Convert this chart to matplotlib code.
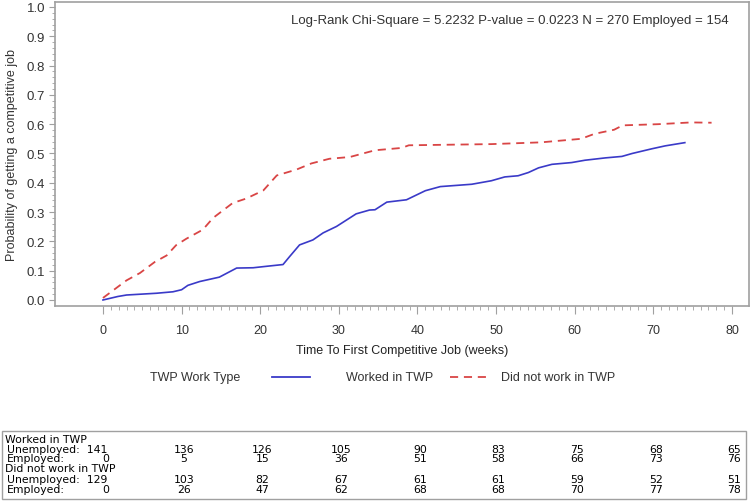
import matplotlib
matplotlib.use("Agg")
import matplotlib.pyplot as plt
from matplotlib.lines import Line2D
from matplotlib.patches import Rectangle
from matplotlib.transforms import blended_transform_factory

plt.rcParams['font.family'] = ['Liberation Sans', 'DejaVu Sans']

# Worked in TWP (solid blue)
twp_weeks = [0, 1.9, 3, 6.8, 8.9, 10, 10.8, 12.3, 14.8, 17, 19.1, 20.8, 22.9, 23.7, 25,
             26.7, 28, 29.7, 32.2, 33.9, 34.6, 36.1, 38.6, 41.0, 42.9, 46.9, 49.4, 51.1,
             52.8, 54.1, 55.4, 57.1, 59.6, 61.3, 63.9, 66.0, 67.3, 69.8, 71.5, 74.0]
twp_prob = [0.0, 0.012, 0.017, 0.023, 0.028, 0.035, 0.05, 0.063, 0.078, 0.109, 0.110, 0.115,
            0.121, 0.147, 0.188, 0.205, 0.229, 0.251, 0.294, 0.307, 0.308, 0.334, 0.342,
            0.373, 0.387, 0.395, 0.407, 0.42, 0.424, 0.435, 0.451, 0.463, 0.469, 0.477,
            0.485, 0.49, 0.50, 0.516, 0.526, 0.537]

# Did not work in TWP (dashed red)
no_twp_weeks = [0, 3, 4.7, 6.6, 8.1, 9.3, 10.6, 12.7, 14.0, 16.5, 18.2, 20.4, 22.1, 24.6,
                26.5, 28.8, 31.4, 34.6, 38, 38.9, 49.4, 55.7, 60.8, 62.5, 65.0, 66.1, 70.6,
                74.8, 77.4]
no_twp_prob = [0.007, 0.067, 0.092, 0.130, 0.152, 0.187, 0.209, 0.240, 0.280, 0.331, 0.346,
               0.374, 0.425, 0.445, 0.466, 0.482, 0.488, 0.511, 0.519, 0.528, 0.532, 0.538,
               0.55, 0.567, 0.581, 0.596, 0.60, 0.606, 0.605]

# number-at-risk table
table_times = [0, 10, 20, 30, 40, 50, 60, 70, 80]
twp_unemployed = [141, 136, 126, 105, 90, 83, 75, 68, 65]
twp_employed = [0, 5, 15, 36, 51, 58, 66, 73, 76]
no_twp_unemployed = [129, 103, 82, 67, 61, 61, 59, 52, 51]
no_twp_employed = [0, 26, 47, 62, 68, 68, 70, 77, 78]

blue = '#3a3ac8'
red = '#d94545'
grey = '#a0a0a0'
txt = '#333333'

fig = plt.figure(figsize=(7.5, 5.02), dpi=100)
ax = fig.add_axes([55 / 750, 1 - 307 / 502, 694 / 750, 304 / 502])

ax.plot(twp_weeks, twp_prob, color=blue, lw=1.2)
ax.plot(no_twp_weeks, no_twp_prob, color=red, lw=1.3, dashes=(4.5, 3.2))

ax.set_xlim(-6.1, 82.16)
ax.set_ylim(-0.0205, 1.017)
ax.set_xticks(range(0, 81, 10))
ax.set_xticks(range(0, 81, 1), minor=True)
ax.set_yticks([i / 10 for i in range(11)])
ax.set_yticklabels([f'{i / 10:.1f}' for i in range(11)])
ax.set_yticks([i / 50 for i in range(51)], minor=True)
ax.tick_params(axis='both', which='major', direction='out', color=grey,
               labelsize=9, labelcolor=txt)
ax.tick_params(axis='x', which='major', length=6, pad=7)
ax.tick_params(axis='x', which='minor', length=3, color=grey)
ax.tick_params(axis='y', which='major', length=4, pad=3, labelsize=9.5)
ax.tick_params(axis='y', which='minor', length=2, color=grey)
for s in ax.spines.values():
    s.set_color(grey)
    s.set_linewidth(1.2)

ax.set_ylabel('Probability of getting a competitive job', fontsize=9, color=txt, labelpad=6)
ax.set_xlabel('Time To First Competitive Job (weeks)', fontsize=9, color='#222222', labelpad=6)

ax.text(0.97, 0.94, 'Log-Rank Chi-Square = 5.2232 P-value = 0.0223 N = 270 Employed = 154',
        transform=ax.transAxes, ha='right', va='center', fontsize=9.5, color=txt)

# legend row
ly = 1 - 378 / 502
fig.text(150 / 750, ly, 'TWP Work Type', fontsize=9, color=txt, va='center')
fig.add_artist(Line2D([272 / 750, 310 / 750], [ly, ly], color=blue, lw=1.3))
fig.text(346 / 750, ly, 'Worked in TWP', fontsize=9, color=txt, va='center')
fig.add_artist(Line2D([450 / 750, 491 / 750], [ly, ly], color=red, lw=1.3, dashes=(4.5, 3.2)))
fig.text(501 / 750, ly, 'Did not work in TWP', fontsize=9, color=txt, va='center')

# at-risk table
fig.add_artist(Rectangle((2 / 750, 1 - 500 / 502), 744 / 750, 68 / 502,
                         transform=fig.transFigure, fill=False, edgecolor=grey, lw=1))
tr = blended_transform_factory(ax.transData, fig.transFigure)
tfont = dict(fontsize=7.8, family='DejaVu Sans', va='center', color='black')
rows = [(440, 'Worked in TWP', None, 5),
        (450, 'Unemployed:  ' + str(twp_unemployed[0]), twp_unemployed, 7),
        (459, 'Employed:', twp_employed, 7),
        (469, 'Did not work in TWP', None, 5),
        (480, 'Unemployed:  ' + str(no_twp_unemployed[0]), no_twp_unemployed, 7),
        (490, 'Employed:', no_twp_employed, 7)]
for y, label, vals, x0 in rows:
    yf = 1 - y / 502
    fig.text(x0 / 750, yf, label, **tfont)
    if vals is not None:
        start = 0 if label.startswith('Employed') else 1
        for t, v in zip(table_times[start:], vals[start:]):
            ax.text(t + 0.3, yf, str(v), transform=tr, ha='center', **tfont)

fig.savefig('out.png', dpi=100)
